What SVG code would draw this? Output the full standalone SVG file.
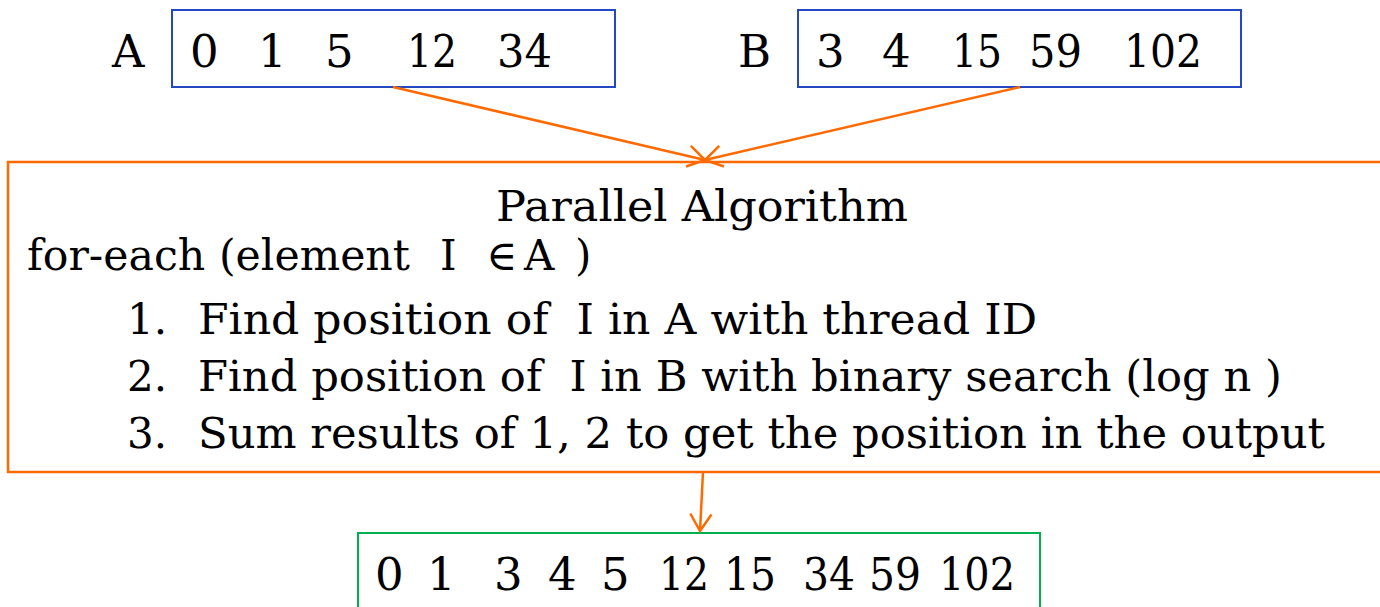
<svg xmlns="http://www.w3.org/2000/svg" width="1380" height="607" viewBox="0 0 1380 607">
<style>
.t{font-family:"DejaVu Serif","Liberation Serif",serif;font-size:42px;fill:#000}
.d{font-family:"DejaVu Serif","Liberation Serif",serif;font-size:45px;fill:#000}
.blue{fill:#fff;stroke:#2447c4;stroke-width:2}
.orange{fill:#fff;stroke:#ff6a00;stroke-width:2.5}
.green{fill:#fff;stroke:#00b050;stroke-width:2}
.conn{stroke:#ff6a00;stroke-width:2.5;fill:none}
</style>
<defs>
<marker id="arr" viewBox="0 -12 22 24" refX="20" refY="0" markerWidth="22" markerHeight="24" markerUnits="userSpaceOnUse" orient="auto">
<path d="M3,-10.6 L20,0 L3,10.6" fill="none" stroke="#ff6a00" stroke-width="2.5"/>
</marker>
</defs>
<rect width="1380" height="607" fill="#fff"/>
<g id="nodeA">
<text class="d" x="112" y="67">A</text>
<rect class="blue" x="172" y="10" width="443" height="77"/>
<text class="d" y="67"><tspan x="190">0</tspan><tspan x="258">1</tspan><tspan x="325">5</tspan><tspan x="407" textLength="50" lengthAdjust="spacingAndGlyphs">12</tspan><tspan x="497" textLength="55" lengthAdjust="spacingAndGlyphs">34</tspan></text>
</g>
<g id="nodeB">
<text class="d" x="738" y="67">B</text>
<rect class="blue" x="798" y="10" width="443" height="77"/>
<text class="d" y="67"><tspan x="816">3</tspan><tspan x="882">4</tspan><tspan x="952" textLength="50" lengthAdjust="spacingAndGlyphs">15</tspan><tspan x="1029" textLength="53" lengthAdjust="spacingAndGlyphs">59</tspan><tspan x="1124" textLength="78" lengthAdjust="spacingAndGlyphs">102</tspan></text>
</g>
<g id="algo">
<rect class="orange" x="8" y="162" width="1390" height="310"/>
<text class="t" x="496" y="221" textLength="412" lengthAdjust="spacingAndGlyphs">Parallel Algorithm</text>
<text class="t" y="270"><tspan x="27" textLength="383" lengthAdjust="spacingAndGlyphs">for-each (element</tspan><tspan x="440">I</tspan><tspan x="486">∈</tspan><tspan x="524">A</tspan><tspan x="575">)</tspan></text>
<text class="t" x="127" y="334">1.</text>
<text class="t" x="198" y="334" textLength="839" lengthAdjust="spacingAndGlyphs" xml:space="preserve">Find position of  I in A with thread ID</text>
<text class="t" x="127" y="391">2.</text>
<text class="t" x="198" y="391" textLength="1084" lengthAdjust="spacingAndGlyphs" xml:space="preserve">Find position of  I in B with binary search (log n )</text>
<text class="t" x="127" y="448">3.</text>
<text class="t" x="198" y="448" textLength="1127" lengthAdjust="spacingAndGlyphs">Sum results of 1, 2 to get the position in the output</text>
</g>
<g id="output">
<rect class="green" x="358" y="533" width="682" height="90"/>
<text class="d" y="590"><tspan x="375">0</tspan><tspan x="427">1</tspan><tspan x="494">3</tspan><tspan x="548">4</tspan><tspan x="601">5</tspan><tspan x="659" textLength="50" lengthAdjust="spacingAndGlyphs">12</tspan><tspan x="724" textLength="52" lengthAdjust="spacingAndGlyphs">15</tspan><tspan x="803" textLength="52" lengthAdjust="spacingAndGlyphs">34</tspan><tspan x="869" textLength="52" lengthAdjust="spacingAndGlyphs">59</tspan><tspan x="939" textLength="76" lengthAdjust="spacingAndGlyphs">102</tspan></text>
</g>
<g id="connectors">
<line class="conn" x1="393" y1="87" x2="705" y2="160" marker-end="url(#arr)"/>
<line class="conn" x1="1020" y1="87" x2="705" y2="160" marker-end="url(#arr)"/>
<line class="conn" x1="703" y1="472" x2="700" y2="531" marker-end="url(#arr)"/>
</g>
</svg>
